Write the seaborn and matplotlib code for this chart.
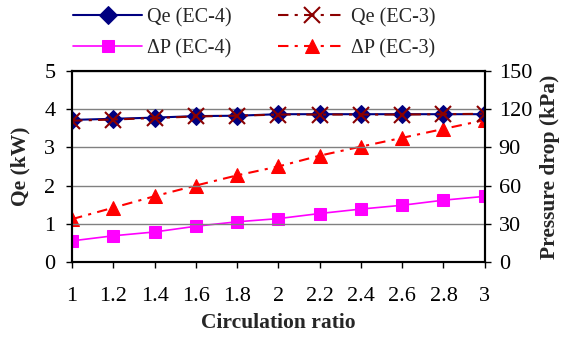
import numpy as np
import pandas as pd
import matplotlib
matplotlib.use('Agg')
import matplotlib.pyplot as plt
import seaborn as sns

# data
ratio = [1, 1.2, 1.4, 1.6, 1.8, 2, 2.2, 2.4, 2.6, 2.8, 3]
qe_ec4 = [3.72, 3.75, 3.78, 3.82, 3.83, 3.87, 3.87, 3.87, 3.87, 3.87, 3.87]
qe_ec3 = [3.70, 3.73, 3.77, 3.81, 3.83, 3.86, 3.86, 3.86, 3.86, 3.87, 3.88]
dp_ec4 = [16.5, 20.5, 23.5, 28, 31.5, 34, 38, 41.5, 44.5, 48.5, 51.5]
dp_ec3 = [33.6, 42.6, 51.6, 60, 68, 75, 83.5, 90.6, 97.5, 104.5, 111.5]

sns.set_style('white')
plt.rcParams['font.family'] = ['Liberation Serif', 'DejaVu Serif']

df = pd.DataFrame({'ratio': ratio, 'qe4': qe_ec4, 'qe3': qe_ec3,
                   'dp4': dp_ec4, 'dp3': dp_ec3})

fig = plt.figure(figsize=(5.63, 3.45), dpi=100)
ax = fig.add_axes([0.128, 0.241, 0.733, 0.553])
ax2 = ax.twinx()

dashdot = (0, (5, 3, 1.5, 3))

# pressure drop on right axis (drawn below the Qe lines)
sns.lineplot(data=df, x='ratio', y='dp4', ax=ax2, color='#ff00ff', lw=1.2,
             marker='s', markersize=9, markeredgecolor='#ff00ff', label='\u0394P (EC-4)')
sns.lineplot(data=df, x='ratio', y='dp3', ax=ax2, color='#ff0000', lw=1.5,
             linestyle=dashdot, marker='^', markersize=10, markeredgecolor='#ff0000',
             label='\u0394P (EC-3)')
ax2.set_zorder(1)
ax.set_zorder(2)
ax.patch.set_visible(False)

sns.lineplot(data=df, x='ratio', y='qe4', ax=ax, color='#000080', lw=1.5,
             marker='D', markersize=9, markeredgecolor='#000080', label='Qe (EC-4)')
sns.lineplot(data=df, x='ratio', y='qe3', ax=ax, color='#8b0000', lw=1.5,
             linestyle=dashdot, marker='x', markersize=11, markeredgewidth=1.5,
             markeredgecolor='#8b0000', label='Qe (EC-3)')

ax.set_xlim(1, 3)
ax.set_ylim(0, 5)
ax2.set_ylim(0, 150)
ax.set_xticks(ratio)
ax.set_xticklabels(['1', '1.2', '1.4', '1.6', '1.8', '2', '2.2', '2.4', '2.6', '2.8', '3'])
ax.set_yticks(range(0, 6))
ax2.set_yticks(range(0, 151, 30))
ax.yaxis.grid(True, color='#808080', lw=1)
ax2.grid(False)

for a in (ax, ax2):
    for s in a.spines.values():
        s.set_color('black')
        s.set_linewidth(1.5)
    a.tick_params(labelsize=16, colors='black', direction='out', length=4, width=1)
ax.tick_params(axis='x', pad=14, bottom=True)
ax.tick_params(axis='y', left=True, pad=8)
ax2.tick_params(axis='y', right=True, pad=6)

ax.set_xlabel('Circulation ratio', fontsize=15.5, fontweight='bold', labelpad=5)
ax.set_ylabel('Qe (kW)', fontsize=15.5, fontweight='bold', labelpad=10)
ax2.set_ylabel('Pressure drop (kPa)', fontsize=15.5, fontweight='bold', labelpad=6)

h1, l1 = ax.get_legend_handles_labels()
h2, l2 = ax2.get_legend_handles_labels()
ax.get_legend().remove()
ax2.get_legend().remove()
handles = [h1[0], h2[0], h1[1], h2[1]]
labels = [l1[0], l2[0], l1[1], l2[1]]
fig.legend(handles, labels, ncol=2, loc='upper left', bbox_to_anchor=(0.098, 1.03),
           frameon=False, fontsize=14.5, handlelength=3.4, columnspacing=2.3,
           labelspacing=0.6, handletextpad=0.25)

fig.savefig('out.png', dpi=100)
